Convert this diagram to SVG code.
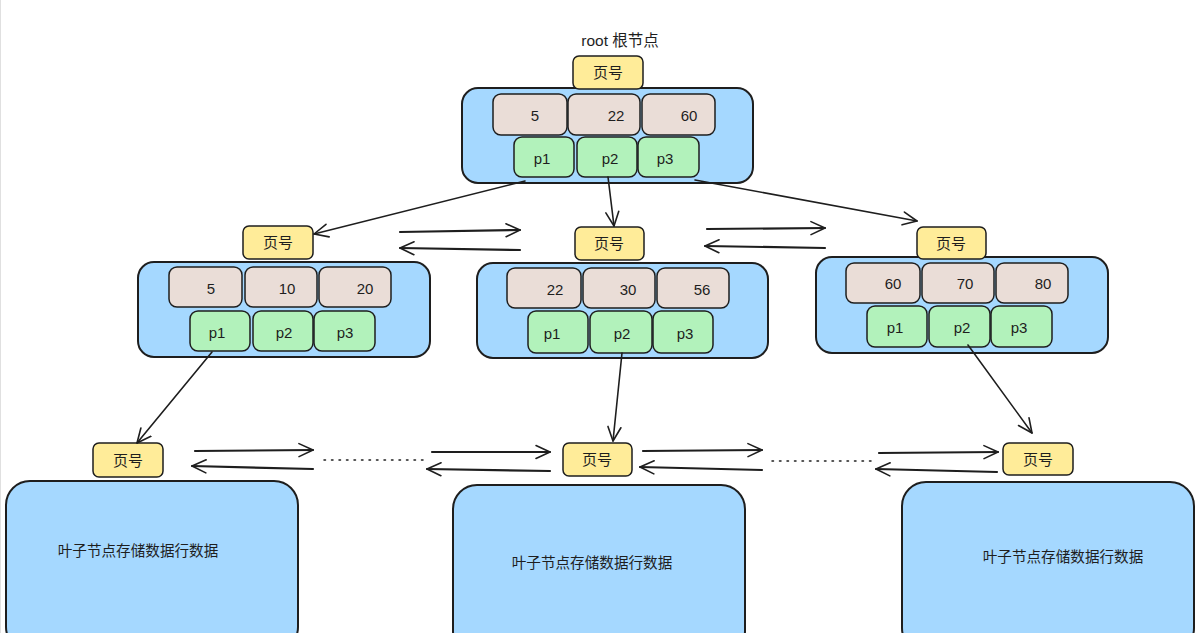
<svg xmlns="http://www.w3.org/2000/svg" width="1204" height="633" viewBox="0 0 1204 633">
<defs>
<marker id="ah" viewBox="0 0 16 16" refX="15" refY="8" markerWidth="16" markerHeight="16" orient="auto" markerUnits="userSpaceOnUse">
<path d="M1,1.5 L15,8 L1,14.5" fill="none" stroke="#1e1e1e" stroke-width="1.6" stroke-linecap="round" stroke-linejoin="round"/>
</marker>
<style>
.cont{fill:#a5d8ff;stroke:#1e1e1e;stroke-width:2}
.key{fill:#eaddd7;stroke:#1e1e1e;stroke-width:1.5}
.ptr{fill:#b2f2bb;stroke:#1e1e1e;stroke-width:1.5}
.pg{fill:#ffec99;stroke:#1e1e1e;stroke-width:1.5}
.leaf{fill:#a5d8ff;stroke:#1e1e1e;stroke-width:2}
.t{font-family:"Liberation Sans","Noto Sans CJK SC",sans-serif;font-size:15px;fill:#1e1e1e;text-anchor:middle;dominant-baseline:central}
.n{font-family:"Liberation Sans",sans-serif;font-size:15px;fill:#1e1e1e;text-anchor:middle;dominant-baseline:central}
.cn{fill:none;stroke:#1e1e1e;stroke-width:1.6;stroke-linecap:round;marker-end:url(#ah)}
.hz{fill:none;stroke:#1e1e1e;stroke-width:2.2;stroke-linecap:round;marker-end:url(#ah)}
.dot{fill:none;stroke:#1e1e1e;stroke-width:1.5;stroke-dasharray:1.5 6;stroke-linecap:round}
</style>
</defs>
<rect width="1204" height="633" fill="#ffffff"/>
<line x1="0.5" y1="0" x2="0.5" y2="633" stroke="#e0e0e0" stroke-width="1"/>

<g id="root">
<text class="t" x="620" y="40" style="font-size:15.5px">root 根节点</text>
<rect class="cont" x="462" y="88" width="291" height="95" rx="16"/>
<rect class="pg" x="573" y="56" width="70" height="33" rx="6"/>
<text class="t" x="608" y="72">页号</text>
<rect class="key" x="493" y="94" width="74" height="41" rx="8"/>
<rect class="key" x="568" y="94" width="72" height="41" rx="8"/>
<rect class="key" x="642" y="94" width="73" height="41" rx="8"/>
<text class="n" x="535" y="115">5</text>
<text class="n" x="616" y="115">22</text>
<text class="n" x="689" y="115">60</text>
<rect class="ptr" x="514" y="137" width="60" height="40" rx="8"/>
<rect class="ptr" x="577" y="137" width="60" height="40" rx="8"/>
<rect class="ptr" x="638" y="137" width="61" height="40" rx="8"/>
<text class="n" x="542" y="158">p1</text>
<text class="n" x="610" y="158">p2</text>
<text class="n" x="665" y="158">p3</text>
</g>

<g id="inner-left">
<rect class="cont" x="138" y="262" width="292" height="95" rx="16"/>
<rect class="pg" x="243" y="226" width="70" height="33" rx="6"/>
<text class="t" x="278" y="242">页号</text>
<rect class="key" x="169" y="267" width="73" height="40" rx="8"/>
<rect class="key" x="245" y="267" width="72" height="40" rx="8"/>
<rect class="key" x="319" y="267" width="72" height="40" rx="8"/>
<text class="n" x="211" y="288">5</text>
<text class="n" x="287" y="288">10</text>
<text class="n" x="365" y="288">20</text>
<rect class="ptr" x="190" y="311" width="60" height="40" rx="8"/>
<rect class="ptr" x="253" y="311" width="60" height="40" rx="8"/>
<rect class="ptr" x="314" y="311" width="61" height="40" rx="8"/>
<text class="n" x="217" y="332">p1</text>
<text class="n" x="284" y="332">p2</text>
<text class="n" x="345" y="332">p3</text>
</g>

<g id="inner-middle">
<rect class="cont" x="477" y="263" width="291" height="95" rx="16"/>
<rect class="pg" x="575" y="227" width="69" height="33" rx="6"/>
<text class="t" x="609" y="243">页号</text>
<rect class="key" x="507" y="268" width="74" height="40" rx="8"/>
<rect class="key" x="583" y="268" width="72" height="40" rx="8"/>
<rect class="key" x="657" y="268" width="72" height="40" rx="8"/>
<text class="n" x="555" y="289">22</text>
<text class="n" x="628" y="289">30</text>
<text class="n" x="702" y="289">56</text>
<rect class="ptr" x="528" y="311" width="60" height="42" rx="8"/>
<rect class="ptr" x="590" y="311" width="62" height="42" rx="8"/>
<rect class="ptr" x="653" y="311" width="60" height="42" rx="8"/>
<text class="n" x="552" y="333">p1</text>
<text class="n" x="622" y="333">p2</text>
<text class="n" x="685" y="333">p3</text>
</g>

<g id="inner-right">
<rect class="cont" x="816" y="257" width="292" height="96" rx="16"/>
<rect class="pg" x="917" y="227" width="69" height="32" rx="6"/>
<text class="t" x="951" y="243">页号</text>
<rect class="key" x="846" y="263" width="74" height="40" rx="8"/>
<rect class="key" x="922" y="263" width="72" height="40" rx="8"/>
<rect class="key" x="996" y="263" width="72" height="40" rx="8"/>
<text class="n" x="893" y="283">60</text>
<text class="n" x="965" y="283">70</text>
<text class="n" x="1043" y="283">80</text>
<rect class="ptr" x="867" y="306" width="60" height="41" rx="8"/>
<rect class="ptr" x="929" y="306" width="61" height="41" rx="8"/>
<rect class="ptr" x="991" y="306" width="61" height="41" rx="8"/>
<text class="n" x="895" y="327">p1</text>
<text class="n" x="962" y="327">p2</text>
<text class="n" x="1019" y="327">p3</text>
</g>

<g id="leaf-left">
<rect class="leaf" x="6" y="481" width="292" height="170" rx="24"/>
<rect class="pg" x="93" y="443" width="70" height="34" rx="6"/>
<text class="t" x="128" y="460">页号</text>
<text class="t" x="138" y="551" style="font-size:14.6px">叶子节点存储数据行数据</text>
</g>

<g id="leaf-middle">
<rect class="leaf" x="453" y="485" width="292" height="170" rx="24"/>
<rect class="pg" x="563" y="443" width="69" height="33" rx="6"/>
<text class="t" x="597" y="459">页号</text>
<text class="t" x="592" y="563" style="font-size:14.6px">叶子节点存储数据行数据</text>
</g>

<g id="leaf-right">
<rect class="leaf" x="902" y="482" width="292" height="170" rx="24"/>
<rect class="pg" x="1003" y="443" width="70" height="32" rx="6"/>
<text class="t" x="1038" y="459">页号</text>
<text class="t" x="1063" y="557" style="font-size:14.6px">叶子节点存储数据行数据</text>
</g>

<g id="connectors">
<path class="cn" d="M525,181 L314,234"/>
<path class="cn" d="M608,177 L614,226"/>
<path class="cn" d="M695,180 L917,221"/>
<path class="cn" d="M212,352 L137,443"/>
<path class="cn" d="M622,353 L613,441"/>
<path class="cn" d="M968,345 L1032,433"/>

<path class="hz" d="M400,232 L520,230"/>
<path class="hz" d="M520,250 L400,248"/>
<path class="hz" d="M707,229 L825,228"/>
<path class="hz" d="M825,248 L705,246"/>

<path class="hz" d="M195,451 L313,450"/>
<path class="hz" d="M313,469 L192,466"/>
<path class="hz" d="M432,452 L550,452"/>
<path class="hz" d="M550,471 L427,469"/>
<path class="hz" d="M643,451 L762,450"/>
<path class="hz" d="M762,470 L640,467"/>
<path class="hz" d="M879,453 L998,452"/>
<path class="hz" d="M997,472 L876,469"/>

<path class="dot" d="M324,460 L425,460"/>
<path class="dot" d="M772,461 L875,461"/>
</g>
</svg>
